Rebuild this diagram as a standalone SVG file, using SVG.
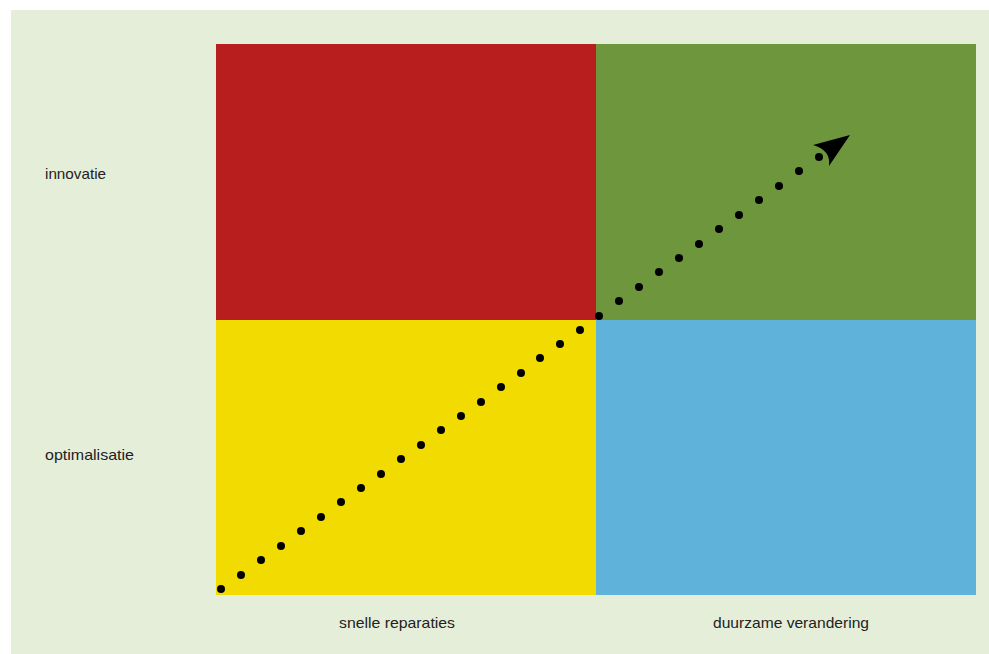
<svg xmlns="http://www.w3.org/2000/svg" width="989" height="654" viewBox="0 0 989 654">
<style>
.lbl{font-family:"Liberation Sans","DejaVu Sans",sans-serif;font-size:15px;fill:#222}
.dot{fill:#000}
</style>
<rect x="0" y="0" width="989" height="654" fill="#ffffff"/>
<rect x="11" y="10" width="978" height="644" fill="#E5EED9"/>
<g id="q-red"><rect x="216" y="44" width="380" height="276" fill="#B81E1E"/></g>
<g id="q-green"><rect x="596" y="44" width="380" height="276" fill="#6E963C"/></g>
<g id="q-yellow"><rect x="216" y="320" width="380" height="275" fill="#F2DB00"/></g>
<g id="q-blue"><rect x="596" y="320" width="380" height="275" fill="#5FB2DA"/></g>
<g id="labels">
<text class="lbl" x="45" y="179" textLength="61" lengthAdjust="spacingAndGlyphs">innovatie</text>
<text class="lbl" x="45" y="460" textLength="89" lengthAdjust="spacingAndGlyphs">optimalisatie</text>
<text class="lbl" x="339" y="628" textLength="116" lengthAdjust="spacingAndGlyphs">snelle reparaties</text>
<text class="lbl" x="713" y="628" textLength="156" lengthAdjust="spacingAndGlyphs">duurzame verandering</text>
</g>
<g id="connectors">
<g class="dot">
<circle cx="221" cy="589" r="4"/><circle cx="241" cy="575" r="4"/><circle cx="261" cy="560" r="4"/><circle cx="281" cy="546" r="4"/><circle cx="301" cy="531" r="4"/><circle cx="321" cy="517" r="4"/><circle cx="341" cy="502" r="4"/><circle cx="361" cy="488" r="4"/><circle cx="381" cy="474" r="4"/><circle cx="401" cy="459" r="4"/><circle cx="421" cy="445" r="4"/><circle cx="441" cy="430" r="4"/><circle cx="461" cy="416" r="4"/><circle cx="481" cy="402" r="4"/><circle cx="501" cy="387" r="4"/><circle cx="521" cy="373" r="4"/><circle cx="540" cy="358" r="4"/><circle cx="560" cy="344" r="4"/><circle cx="580" cy="330" r="4"/><circle cx="599" cy="316" r="4"/><circle cx="619" cy="301" r="4"/><circle cx="639" cy="287" r="4"/><circle cx="659" cy="272" r="4"/><circle cx="679" cy="258" r="4"/><circle cx="699" cy="244" r="4"/><circle cx="719" cy="229" r="4"/><circle cx="739" cy="215" r="4"/><circle cx="759" cy="200" r="4"/><circle cx="779" cy="186" r="4"/><circle cx="799" cy="171" r="4"/><circle cx="819" cy="157" r="4"/>
</g>
<path d="M850,135 L829,166 Q831,150 813,145 Z" fill="#000"/>
</g>
</svg>
